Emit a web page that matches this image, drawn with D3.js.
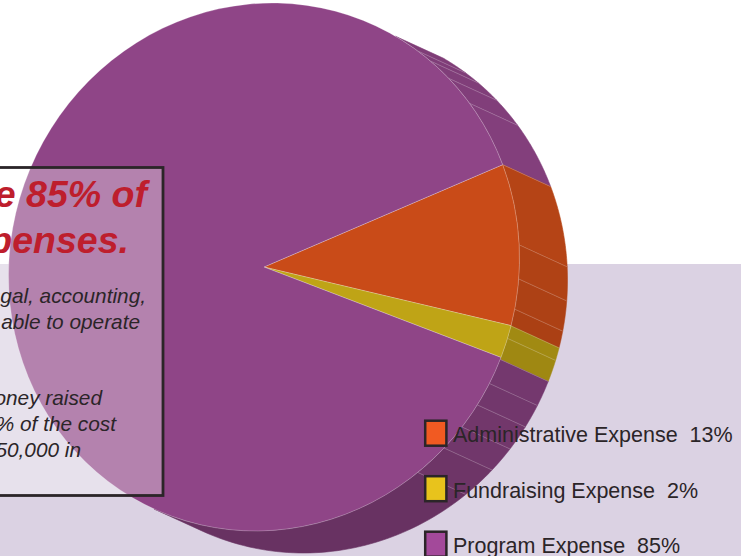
<!DOCTYPE html>
<html>
<head>
<meta charset="utf-8">
<script src="https://cdn.jsdelivr.net/npm/d3@7"></script>
<style>
html, body { margin: 0; padding: 0; background: #fff; overflow: hidden; }
svg { display: block; }
text { font-family: "Liberation Sans", Arial, sans-serif; white-space: pre; }
</style>
</head>
<body>
<div id="chart"></div>
<script>
const legendNames = ["Administrative Expense", "Fundraising Expense", "Program Expense"];
const legendPercents = [13, 2, 85];
const legendColors = ["#f15a22", "#e8c31c", "#a3499a"];

const drawnShares = [9.9, 2.0, 88.1];
const sliceColors = ["#c94b18", "#bfa416", "#8f4587"];

// where the thin lines cross the side wall, degrees clockwise from 3 o'clock
const sideEdges = [-59, -53, -49.4, -43.7, -36.4, -20.9, -2.9, 4.5, 11.1, 14.8, 17.6, 22.4, 28.1, 33.4, 39.2, 45.2, 53, 115.5];
const shadeAngles = [-60, -30, -10, 13, 20, 30, 45, 56];
const shadeValues = [0.88, 0.916, 0.90, 0.85, 0.83, 0.80, 0.79, 0.727];

const titleLines = ["e 85% of", "penses."];
const bodyLines = ["gal, accounting,", "able to operate", "", "", "oney raised", "% of the cost", "50,000 in"];

const width = 741;
const height = 556;
const cx = 264, cy = 267;
const depthX = 48, depthY = 22;
// ellipse of the top face
const a = 255.5, b = -8.8, d = 263.85;

const svg = d3.select("#chart").append("svg")
    .attr("width", width)
    .attr("height", height);

svg.append("rect")
    .attr("x", 0)
    .attr("y", 264)
    .attr("width", width)
    .attr("height", height - 264)
    .attr("fill", "#dbd2e3");

const pie = d3.pie().sort(null)
    .startAngle((90 - 20.9) * Math.PI / 180)
    .endAngle((90 - 20.9 + 360) * Math.PI / 180);
const slices = pie(drawnShares);

const rim = (deg, dx, dy) => {
    const t = deg * Math.PI / 180;
    return [cx + a * Math.cos(t) + dx, cy + b * Math.cos(t) + d * Math.sin(t) + dy];
};

const shade = d3.scaleLinear().domain(shadeAngles).range(shadeValues).clamp(true);

const sliceFor = deg => {
    const angle = ((deg + 90 - slices[0].startAngle * 180 / Math.PI) % 360 + 360) % 360;
    let total = 0;
    for (let i = 0; i < drawnShares.length; i++) {
        total += drawnShares[i] * 3.6;
        if (angle < total) return i;
    }
    return drawnShares.length - 1;
};

// side wall, one piece between each pair of edges
const line = d3.line();
const side = svg.append("g");
d3.pairs(sideEdges).forEach(([t0, t1]) => {
    const steps = d3.range(0, 1.0001, 0.02).map(k => t0 + (t1 - t0) * k);
    const pts = steps.map(t => rim(t, 0, 0)).concat(steps.slice().reverse().map(t => rim(t, depthX, depthY)));
    const mid = (t0 + t1) / 2;
    const col = d3.rgb(sliceColors[sliceFor(mid)]);
    const f = shade(mid);
    const fill = d3.rgb(col.r * f, col.g * f, col.b * f).formatHex();
    side.append("path")
        .attr("d", line(pts) + "Z")
        .attr("fill", fill)
        .attr("stroke", fill)
        .attr("stroke-width", 0.6);
});
sideEdges.slice(1, -1).forEach(t => {
    side.append("path")
        .attr("d", line([rim(t, 0, 0), rim(t, depthX, depthY)]))
        .attr("fill", "none")
        .attr("stroke", "#fff")
        .attr("stroke-opacity", 0.3)
        .attr("stroke-width", 0.7);
});

// top face
const arc = d3.arc().innerRadius(0).outerRadius(100);
svg.append("g")
    .attr("transform", `matrix(${a / 100} ${b / 100} 0 ${d / 100} ${cx} ${cy})`)
    .selectAll("path")
    .data(slices)
    .enter().append("path")
    .attr("d", arc)
    .attr("fill", (s, i) => sliceColors[i])
    .attr("stroke", "#fff")
    .attr("stroke-opacity", 0.35)
    .attr("stroke-width", 0.7)
    .attr("vector-effect", "non-scaling-stroke");

// callout box over the pie
svg.append("rect")
    .attr("x", -10)
    .attr("y", 167.5)
    .attr("width", 173)
    .attr("height", 328)
    .attr("fill", "#fff")
    .attr("fill-opacity", 0.33)
    .attr("stroke", "#2b2528")
    .attr("stroke-width", 2.8);

svg.selectAll(".title")
    .data(titleLines)
    .enter().append("text")
    .attr("class", "title")
    .attr("x", (s, i) => i === 0 ? 147 : 129)
    .attr("y", (s, i) => 207 + i * 46)
    .attr("text-anchor", "end")
    .attr("font-size", 37.5)
    .attr("font-weight", "bold")
    .attr("font-style", "italic")
    .attr("fill", "#be1e2d")
    .text(s => s);

const bodyRight = [146, 140, 0, 0, 102, 116, 81];
const bodyY = d3.scaleLinear().domain([0, 1]).range([303, 329]);
svg.selectAll(".body")
    .data(bodyLines)
    .enter().append("text")
    .attr("class", "body")
    .attr("x", (s, i) => bodyRight[i])
    .attr("y", (s, i) => i < 2 ? bodyY(i) : 405 + (i - 4) * 26)
    .attr("text-anchor", "end")
    .attr("font-size", 20.8)
    .attr("font-style", "italic")
    .attr("fill", "#2b2528")
    .text(s => s);

// legend
const legendY = d3.scalePoint().domain(legendNames).range([442, 553]);
const legend = svg.append("g");
legendNames.forEach((name, i) => {
    legend.append("rect")
        .attr("x", 425.2)
        .attr("y", legendY(name) - 21.3)
        .attr("width", 21.2)
        .attr("height", 25)
        .attr("fill", legendColors[i])
        .attr("stroke", "#2b2528")
        .attr("stroke-width", 2.5);
    legend.append("text")
        .attr("x", 453)
        .attr("y", legendY(name))
        .attr("font-size", 21.5)
        .attr("fill", "#2b2528")
        .text(`${name}  ${legendPercents[i]}%`);
});
</script>
</body>
</html>
